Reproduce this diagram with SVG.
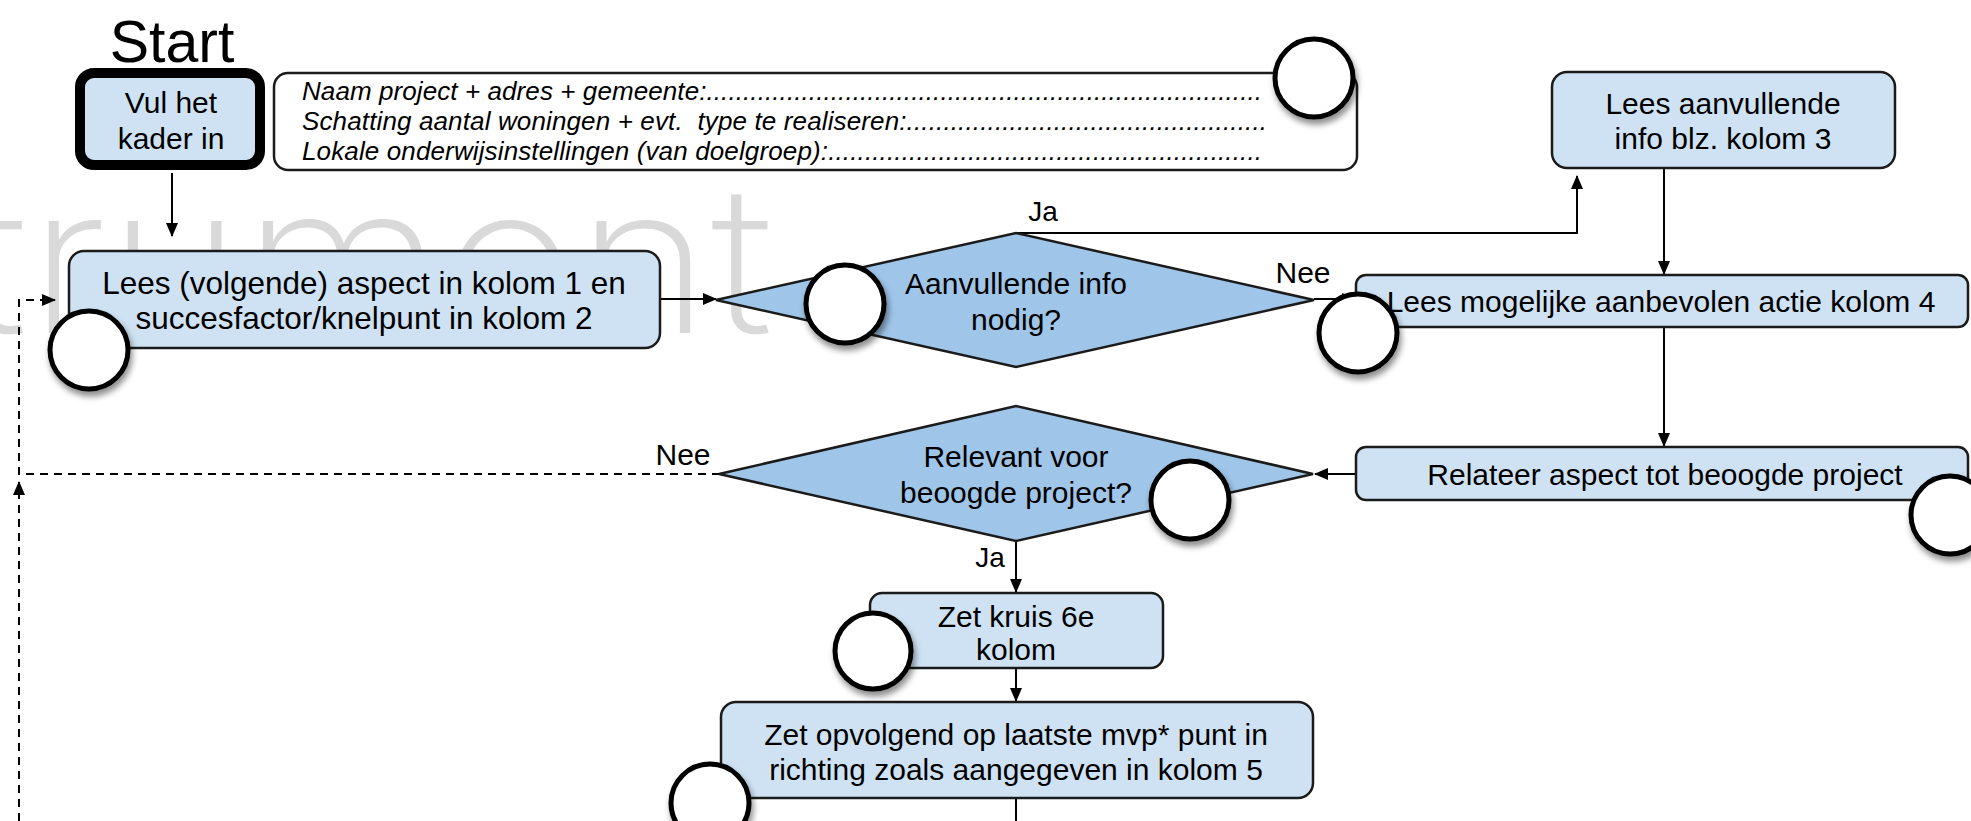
<svg xmlns="http://www.w3.org/2000/svg" width="1971" height="821" viewBox="0 0 1971 821">
  <defs>
    <style>
      .node{fill:#cfe2f3;stroke:#1b1b1b;stroke-width:2.5}
      .dec{fill:#9fc5e8;stroke:#1b1b1b;stroke-width:2.5}
      .plain{fill:#fff;stroke:#1b1b1b;stroke-width:2.5}
      .lbl{font-family:"Liberation Sans",Arial,Helvetica,sans-serif;font-size:30px;fill:#000;text-anchor:middle}
      .info{font-family:"Liberation Sans",Arial,Helvetica,sans-serif;font-size:26px;font-style:italic;fill:#000;white-space:pre}
      .edge{fill:none;stroke:#000;stroke-width:2}
      .dash{stroke-dasharray:8 6}
      .dot{fill:#fff;stroke:#000;stroke-width:5;filter:url(#sh)}
      .wm{font-family:Inter,"Open Sans",sans-serif;font-weight:200;font-size:205px;fill:#d9d9d9}
    </style>
    <marker id="ah" markerUnits="userSpaceOnUse" markerWidth="14" markerHeight="12" refX="13" refY="6" orient="auto">
      <path d="M0,0 L14,6 L0,12 z" fill="#000"/>
    </marker>
    <filter id="sh" x="-30%" y="-30%" width="170%" height="170%">
      <feDropShadow dx="2" dy="5" stdDeviation="3" flood-color="#000" flood-opacity="0.45"/>
    </filter>
  </defs>

  <rect width="1971" height="821" fill="#fff"/>

  <!-- background watermark, running off the left edge -->
  <g id="watermark" class="wm">
    <text x="-40" y="333" textLength="68" lengthAdjust="spacingAndGlyphs">t</text>
    <text x="28" y="333" textLength="745" lengthAdjust="spacingAndGlyphs">rument</text>
  </g>

  <!-- connectors -->
  <g id="connectors">
    <path class="edge" d="M172,173 V236" marker-end="url(#ah)"/>
    <path class="edge dash" d="M720,474 H19 V300 H55" marker-end="url(#ah)"/>
    <path class="edge dash" d="M19,821 V482" marker-end="url(#ah)"/>
    <path class="edge" d="M660,299 H716" marker-end="url(#ah)"/>
    <path class="edge" d="M1016,233 H1577 V176" marker-end="url(#ah)"/>
    <path class="edge" d="M1314,299 H1355" marker-end="url(#ah)"/>
    <path class="edge" d="M1664,168 V274" marker-end="url(#ah)"/>
    <path class="edge" d="M1664,327 V446" marker-end="url(#ah)"/>
    <path class="edge" d="M1356,474 H1315" marker-end="url(#ah)"/>
    <path class="edge" d="M1016,540 V592" marker-end="url(#ah)"/>
    <path class="edge" d="M1016,668 V701" marker-end="url(#ah)"/>
    <path class="edge" d="M1016,798 V821"/>
    <text class="lbl" x="1043" y="221" style="font-size:28px">Ja</text>
    <text class="lbl" x="1303" y="283">Nee</text>
    <text class="lbl" x="683" y="465">Nee</text>
    <text class="lbl" x="990" y="567" style="font-size:28px">Ja</text>
  </g>

  <!-- start node -->
  <g id="start">
    <text class="lbl" x="172" y="62" style="font-size:59px">Start</text>
    <rect x="80" y="73" width="180" height="92" rx="14" fill="#cfe2f3" stroke="#000" stroke-width="10"/>
    <text class="lbl" x="171" y="113">Vul het</text>
    <text class="lbl" x="171" y="149">kader in</text>
  </g>

  <!-- project details form -->
  <g id="kader">
    <rect class="plain" x="274" y="73" width="1083" height="97" rx="14"/>
    <text class="info" x="302" y="100" textLength="960">Naam project + adres + gemeente:............................................................................</text>
    <text class="info" x="302" y="130" textLength="965">Schatting aantal woningen + evt.  type te realiseren:.................................................</text>
    <text class="info" x="302" y="160" textLength="960">Lokale onderwijsinstellingen (van doelgroep):...........................................................</text>
    <circle class="dot" cx="1314" cy="78" r="39"/>
  </g>

  <g id="lees-aspect">
    <rect class="node" x="69" y="251" width="591" height="97" rx="15"/>
    <text class="lbl" x="364" y="294" style="font-size:31.5px">Lees (volgende) aspect in kolom 1 en</text>
    <text class="lbl" x="364" y="329" style="font-size:31.5px">succesfactor/knelpunt in kolom 2</text>
    <circle class="dot" cx="89" cy="350" r="39"/>
  </g>

  <g id="aanvullende-info">
    <polygon class="dec" points="716,300 1016,233 1314,300 1016,367"/>
    <text class="lbl" x="1016" y="294">Aanvullende info</text>
    <text class="lbl" x="1016" y="330">nodig?</text>
    <circle class="dot" cx="845" cy="304" r="39"/>
  </g>

  <g id="lees-aanvullend">
    <rect class="node" x="1552" y="72" width="343" height="96" rx="15"/>
    <text class="lbl" x="1723" y="114">Lees aanvullende</text>
    <text class="lbl" x="1723" y="149">info blz. kolom 3</text>
  </g>

  <g id="lees-actie">
    <rect class="node" x="1356" y="275" width="612" height="52" rx="10"/>
    <text class="lbl" x="1661" y="312">Lees mogelijke aanbevolen actie kolom 4</text>
    <circle class="dot" cx="1358" cy="333" r="39"/>
  </g>

  <g id="relateer">
    <rect class="node" x="1356" y="447" width="612" height="53" rx="10"/>
    <text class="lbl" x="1665" y="485">Relateer aspect tot beoogde project</text>
    <circle class="dot" cx="1950" cy="515" r="39"/>
  </g>

  <g id="relevant">
    <polygon class="dec" points="719,474 1016,406 1313,474 1016,541"/>
    <text class="lbl" x="1016" y="467">Relevant voor</text>
    <text class="lbl" x="1016" y="503">beoogde project?</text>
    <circle class="dot" cx="1190" cy="500" r="39"/>
  </g>

  <g id="zet-kruis">
    <rect class="node" x="870" y="593" width="293" height="75" rx="12"/>
    <text class="lbl" x="1016" y="627">Zet kruis 6e</text>
    <text class="lbl" x="1016" y="660">kolom</text>
    <circle class="dot" cx="873" cy="651" r="38"/>
  </g>

  <g id="zet-opvolgend">
    <rect class="node" x="721" y="702" width="592" height="96" rx="15"/>
    <text class="lbl" x="1016" y="745">Zet opvolgend op laatste mvp* punt in</text>
    <text class="lbl" x="1016" y="780">richting zoals aangegeven in kolom 5</text>
    <circle class="dot" cx="710" cy="803" r="39"/>
  </g>
</svg>
